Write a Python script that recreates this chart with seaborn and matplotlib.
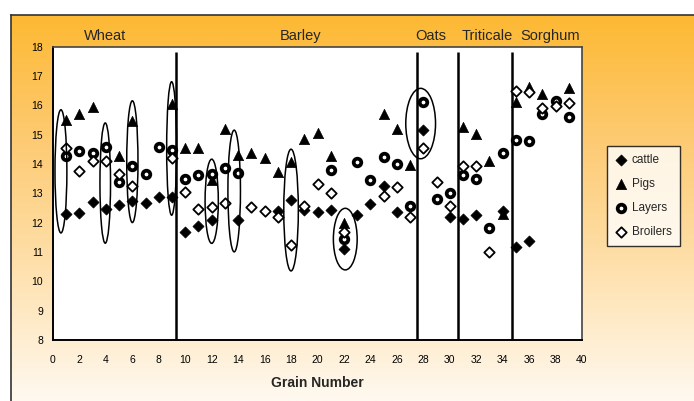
import numpy as np
import pandas as pd
import matplotlib
matplotlib.use("Agg")
import matplotlib.pyplot as plt
import seaborn as sns
from matplotlib.patches import Ellipse
from matplotlib.colors import LinearSegmentedColormap

# Data (NaN = no point drawn)
nan = np.nan
grain = list(range(1, 40))
cattle = [12.28, 12.32, 12.69, 12.47, 12.60, 12.75, 12.66, 12.89, 12.89, 11.67,
          11.89, 12.09, nan, 12.10, nan, nan, 12.41, 12.78, 12.43, 12.38,
          12.43, 11.10, 12.26, 12.64, 13.26, 12.38, nan, 15.16, nan, 12.18,
          12.13, 12.26, nan, 12.40, 11.16, 11.39, nan, nan, nan]
pigs = [15.50, 15.70, 15.95, nan, 14.27, 15.48, nan, nan, 16.05, 14.56,
        14.56, 13.45, 15.19, 14.31, 14.38, 14.20, 13.74, 14.08, 14.85, 15.07,
        14.28, 12.00, nan, nan, 15.69, 15.19, 13.97, nan, nan, nan,
        15.27, 15.01, 14.10, 12.28, 16.10, 16.64, 16.39, nan, 16.60]
layers = [14.27, 14.45, 14.39, 14.57, 13.38, 13.93, 13.66, 14.57, 14.48, 13.49,
          13.63, 13.65, 13.85, 13.71, nan, nan, nan, nan, nan, nan,
          13.80, 11.44, 14.08, 13.45, 14.23, 14.00, 12.58, 16.13, 12.81, 13.00,
          13.63, 13.49, 11.81, 14.36, 14.82, 14.80, 15.69, 16.16, 15.59]
broilers = [14.53, 13.77, 14.11, 14.10, 13.66, 13.26, nan, nan, 14.20, 13.03,
            12.47, 12.55, 12.68, nan, 12.55, 12.40, 12.19, 11.24, 12.57, 13.31,
            13.00, 11.67, nan, nan, 12.92, 13.23, 12.18, 14.53, 13.40, 12.58,
            13.94, 13.94, 11.01, nan, 16.49, 16.45, 15.90, 15.98, 16.07]

groups = ["Wheat", "Barley", "Oats", "Triticale", "Sorghum"]
group_label_x = [3.9, 18.7, 28.6, 32.8, 37.6]
dividers = [9.3, 27.5, 30.6, 34.7]

# hand-drawn ellipses around outliers: (x, y, width, height)
ellipses = [(0.6, 13.75, 0.9, 4.2), (3.95, 13.35, 0.8, 4.1), (6.0, 14.08, 0.85, 4.15),
            (8.97, 14.53, 0.75, 4.55), (12.0, 12.73, 1.0, 2.87), (13.7, 13.08, 0.95, 4.15),
            (18.0, 12.43, 1.1, 4.15), (22.1, 11.44, 1.8, 2.1), (27.8, 15.38, 2.25, 2.4)]

df = pd.DataFrame({"grain": grain, "cattle": cattle, "Pigs": pigs,
                   "Layers": layers, "Broilers": broilers})

sns.set_style("white")
plt.rcParams["font.family"] = ["Liberation Sans", "DejaVu Sans"]

W, H = 694, 401
fig = plt.figure(figsize=(W / 100, H / 100), dpi=100)
fig.patch.set_facecolor("white")

# orange gradient panel behind the chart
bg = fig.add_axes([11 / W, 0, 1 - 11 / W, 1 - 15 / H])
cmap = LinearSegmentedColormap.from_list(
    "grad", [(0, "#FDB933"), (0.35, "#FDCC78"), (0.62, "#FEDEA6"), (1, "#FFF9F0")])
bg.imshow(np.linspace(0, 1, 256).reshape(-1, 1), cmap=cmap, aspect="auto",
          extent=[0, 1, 0, 1])
bg.set_xticks([])
bg.set_yticks([])
for s in ["right", "bottom"]:
    bg.spines[s].set_visible(False)
for s in ["left", "top"]:
    bg.spines[s].set_color("#333333")
    bg.spines[s].set_linewidth(1.2)

ax = fig.add_axes([53 / W, 1 - 340 / H, (582 - 53) / W, (340 - 46.7) / H])
ax.set_facecolor("white")

styles = {
    "cattle": dict(marker="D", s=32, color="black", edgecolor="black", linewidth=0.5),
    "Pigs": dict(marker="^", s=55, color="black", edgecolor="black", linewidth=0.5),
    "Layers": dict(marker="o", s=30, color="white", edgecolor="black", linewidth=2.7),
    "Broilers": dict(marker="D", s=28, color="white", edgecolor="black", linewidth=1.3),
}
for name, kw in styles.items():
    sns.scatterplot(data=df, x="grain", y=name, ax=ax, label=name, zorder=3, **kw)

ax.vlines(dividers, 8, 17.83, color="black", linewidth=1.8, zorder=2)

for (ex, ey, ew, eh) in ellipses:
    ax.add_patch(Ellipse((ex, ey), ew, eh, fill=False, edgecolor="black",
                         linewidth=1.1, zorder=4))

ax.set_xlim(0, 40)
ax.set_ylim(8, 18)
ax.set_xticks(range(0, 41, 2))
ax.set_yticks(range(8, 19))
ax.tick_params(axis="both", direction="inout", length=6, width=1.2,
               labelsize=7.5, colors="black", pad=4)
ax.tick_params(axis="x", pad=8)
ax.set_xlabel("Grain Number", fontsize=10, fontweight="bold", labelpad=8)
ax.set_ylabel("")
for s in ["left", "bottom"]:
    ax.spines[s].set_color("black")
    ax.spines[s].set_linewidth(1.4)
for s in ["top", "right"]:
    ax.spines[s].set_color("#444444")
    ax.spines[s].set_linewidth(1.2)

for label, gx in zip(groups, group_label_x):
    ax.text(gx, 18.36, label, ha="center", va="center", fontsize=10.5)

leg = ax.legend(loc="center left", bbox_to_anchor=(607 / W, 1 - 196 / H),
                bbox_transform=fig.transFigure, frameon=True, fancybox=False,
                fontsize=8.5, handletextpad=0.4, labelspacing=1.0,
                borderpad=0.7, handlelength=1.0, borderaxespad=0)
leg.get_frame().set_edgecolor("black")
leg.get_frame().set_linewidth(1.0)
leg.get_frame().set_facecolor("white")

fig.savefig("out.png", dpi=100)
